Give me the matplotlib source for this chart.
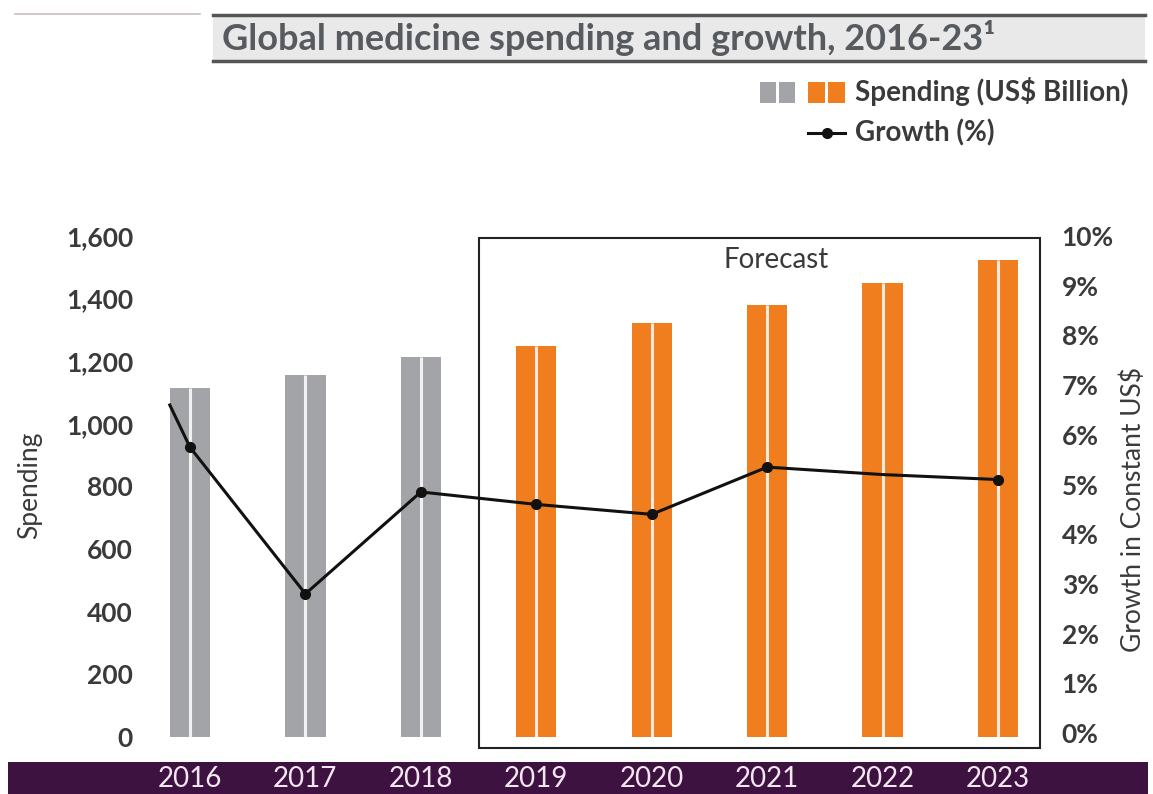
import matplotlib
matplotlib.use("Agg")
import matplotlib.pyplot as plt
from matplotlib.patches import Rectangle
from matplotlib.lines import Line2D
from matplotlib.ticker import FuncFormatter

plt.rcParams['font.family'] = ['Lato', 'DejaVu Sans']

# ---------------- data ----------------
years = ['2016', '2017', '2018', '2019', '2020', '2021', '2022', '2023']
spending = [1115, 1157, 1214, 1249, 1323, 1380, 1450, 1524]       # US$ Billion
growth = [5.75, 2.8, 4.85, 4.6, 4.4, 5.35, 5.2, 5.1]               # %
growth_lead_in = 6.6          # growth level where the line enters at the 2016 bar edge
is_forecast = [False, False, False, True, True, True, True, True]
growth_marked = [True, True, True, True, True, True, False, True]
left_ticks = [0, 200, 400, 600, 800, 1000, 1200, 1400, 1600]
right_ticks = [0, 1, 2, 3, 4, 5, 6, 7, 8, 9, 10]

title = 'Global medicine spending and growth, 2016-23\u00b9'

# ---------------- style ----------------
GRAY = '#a3a4a7'
ORANGE = '#f07d1e'
PURPLE = '#3e1240'
TXT = '#3a3a3a'
W, H = 1153, 794
FS = 19

fig = plt.figure(figsize=(W / 100, H / 100), dpi=100)

def fx(px):
    return px / W

def fy(py):
    return 1 - py / H

ax_l, ax_r, ax_t, ax_b = 140, 1045, 236, 737
XL, XR = -0.433, 7.407
ax = fig.add_axes([fx(ax_l), fy(ax_b), fx(ax_r) - fx(ax_l), fy(ax_t) - fy(ax_b)])
ax2 = ax.twinx()

n = len(years)
xs = list(range(n))
bw = 0.35
colors = [ORANGE if f else GRAY for f in is_forecast]
ax.bar(xs, spending, width=bw, color=colors, zorder=2)
ax.vlines(xs, 0, spending, colors='white', linewidth=2.2, alpha=0.85, zorder=3)

ax.set_xlim(XL, XR)
ax.set_ylim(0, 1600)
ax.set_yticks(left_ticks)
ax.yaxis.set_major_formatter(FuncFormatter(lambda v, p: f'{int(v):,}'))
ax.tick_params(axis='y', length=0, pad=5, labelsize=FS, labelcolor=TXT)
for lab in ax.get_yticklabels():
    lab.set_fontweight('bold')
ax.set_xticks([])
for s in ax.spines.values():
    s.set_visible(False)
for s in ax2.spines.values():
    s.set_visible(False)

# growth line
ax2.set_ylim(-0.08, 10)
ax2.set_yticks(right_ticks)
ax2.yaxis.set_major_formatter(FuncFormatter(lambda v, p: f'{int(v)}%'))
ax2.tick_params(axis='y', length=0, pad=12, labelsize=FS, labelcolor=TXT)
for lab in ax2.get_yticklabels():
    lab.set_fontweight('bold')
ax2.plot([xs[0] - bw / 2, xs[0]], [growth_lead_in, growth[0]], color='#111111', lw=2.2, zorder=4)
ax2.plot(xs, growth, color='#111111', lw=2.2, zorder=4,
         marker='o', markersize=7,
         markevery=[i for i, m in enumerate(growth_marked) if m])

# forecast box
first_fc = is_forecast.index(True)
ax.add_patch(Rectangle((first_fc - 0.5, -35), 7.366 - (first_fc - 0.5), 1595 + 35,
                       fill=False, edgecolor='#222222', lw=1.5, clip_on=False, zorder=5))
ax.text(5.08, 1523, 'Forecast', ha='center', va='center', fontsize=FS + 1,
        color=TXT, zorder=6)

# axis labels
fig.text(fx(30), fy(485), 'Spending', rotation=90, ha='center', va='center',
         fontsize=FS, color=TXT)
fig.text(fx(1133), fy(510), 'Growth in Constant US$', rotation=90, ha='center',
         va='center', fontsize=FS, color=TXT)

# purple year band
fig.patches.append(Rectangle((fx(8), fy(794)), fx(1148) - fx(8), fy(762) - fy(794),
                             transform=fig.transFigure, facecolor=PURPLE, edgecolor='none'))
for i, y in enumerate(years):
    xpix = ax_l + (i - XL) / (XR - XL) * (ax_r - ax_l)
    fig.text(fx(xpix), fy(779), y, ha='center', va='center', fontsize=FS + 1,
             color='#f2e6f0')

# title box
fig.patches.append(Rectangle((fx(213), fy(61)), fx(1145) - fx(213), fy(15) - fy(61),
                             transform=fig.transFigure, facecolor='#e9e9e9', edgecolor='none'))
for yy in (15, 61):
    fig.lines.append(Line2D([fx(213), fx(1145)], [fy(yy), fy(yy)], transform=fig.transFigure,
                            color='#555555', lw=2.5))
fig.lines.append(Line2D([fx(15), fx(200)], [fy(14), fy(14)], transform=fig.transFigure,
                        color='#c9bcc8', lw=1.2))
fig.text(fx(222), fy(38), title, ha='left', va='center', fontsize=26,
         fontweight='bold', color='#575b5f')

# legend
for x0 in (760, 779):
    fig.patches.append(Rectangle((fx(x0), fy(103)), fx(x0 + 16) - fx(x0), fy(82) - fy(103),
                                 transform=fig.transFigure, facecolor=GRAY, edgecolor='none'))
for x0 in (808, 828):
    fig.patches.append(Rectangle((fx(x0), fy(103)), fx(x0 + 17) - fx(x0), fy(82) - fy(103),
                                 transform=fig.transFigure, facecolor=ORANGE, edgecolor='none'))
fig.text(fx(855), fy(92), 'Spending (US$ Billion)', ha='left', va='center',
         fontsize=FS + 1, fontweight='bold', color=TXT)
fig.lines.append(Line2D([fx(808), fx(845)], [fy(133), fy(133)], transform=fig.transFigure,
                        color='#111111', lw=2.2))
fig.lines.append(Line2D([fx(826.5)], [fy(133)], transform=fig.transFigure,
                        color='#111111', marker='o', markersize=7))
fig.text(fx(855), fy(133), 'Growth (%)', ha='left', va='center', fontsize=FS + 1,
         fontweight='bold', color=TXT)

fig.savefig('out.png', dpi=100)
